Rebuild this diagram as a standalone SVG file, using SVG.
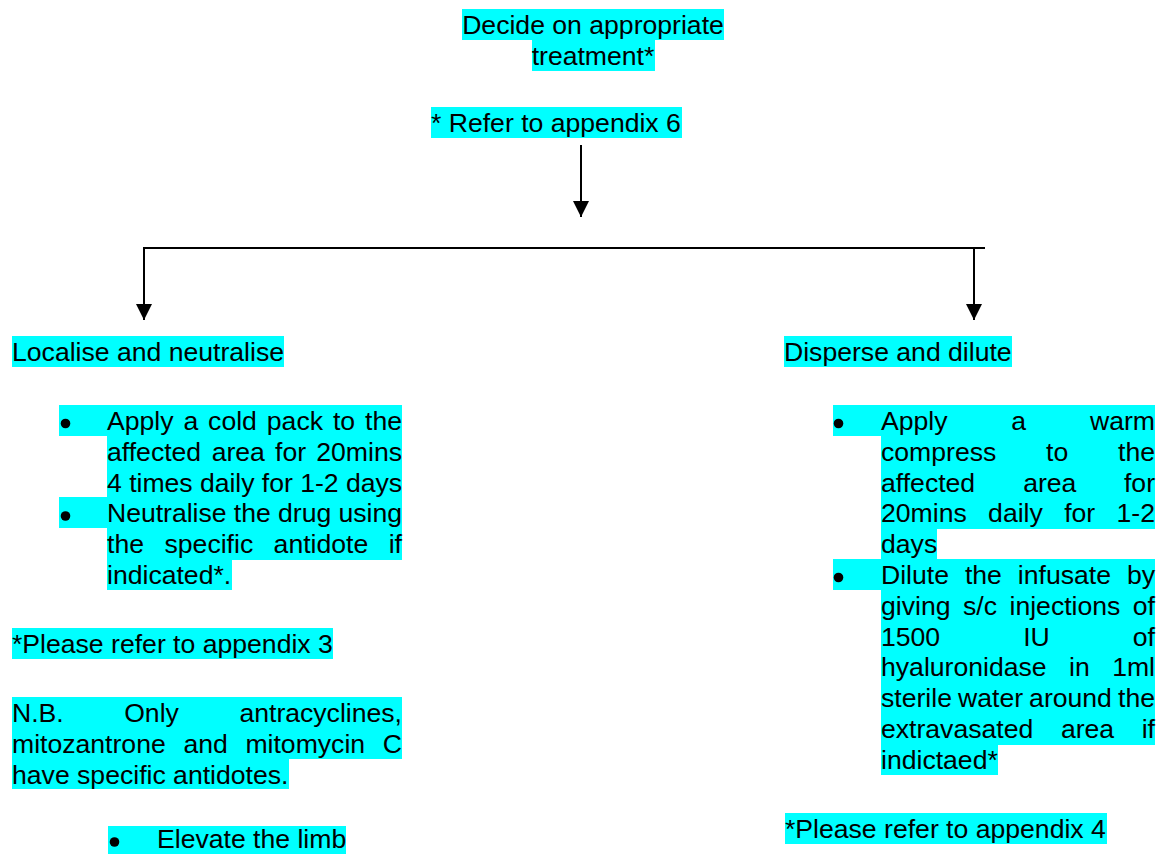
<svg xmlns="http://www.w3.org/2000/svg" width="1160" height="854" viewBox="0 0 1160 854">
<style>
text{font-family:"Liberation Sans",Arial,sans-serif;font-size:26.6px;fill:#000}
.hl{fill:#00ffff}
.ln{stroke:#000;stroke-width:2;fill:none}
.e{text-anchor:end}
.m{text-anchor:middle}
</style>
<defs>
<marker id="ah" markerWidth="16" markerHeight="16" viewBox="0 0 16 16" refX="16" refY="8" orient="auto" markerUnits="userSpaceOnUse">
<path d="M0,0 L16,8 L0,16 Z" fill="#000"/>
</marker>
</defs>
<rect width="1160" height="854" fill="#fff"/>

<g id="connectors">
<line class="ln" x1="581" y1="145" x2="581" y2="217" marker-end="url(#ah)"/>
<polyline class="ln" points="144,320 144,248 985,248"/>
<line class="ln" x1="144" y1="248" x2="144" y2="320" marker-end="url(#ah)"/>
<line class="ln" x1="974" y1="248" x2="974" y2="320" marker-end="url(#ah)"/>
</g>

<g id="decide">
<rect class="hl" x="462" y="9" width="262" height="31"/>
<rect class="hl" x="532" y="40" width="123" height="31"/>
<text class="m" x="593" y="34">Decide on appropriate</text>
<text class="m" x="593" y="65">treatment*</text>
</g>

<g id="refer6">
<rect class="hl" x="431" y="107" width="251" height="31"/>
<text x="431" y="132">* Refer to appendix 6</text>
</g>

<g id="localise">
<rect class="hl" x="12" y="336" width="272" height="31"/>
<text x="12" y="361">Localise and neutralise</text>
</g>

<g id="localise-list">
<rect class="hl" x="59" y="405" width="48" height="31"/>
<rect class="hl" x="107" y="405" width="295" height="93"/>
<rect class="hl" x="59" y="497" width="48" height="31"/>
<rect class="hl" x="107" y="497" width="295" height="63"/>
<rect class="hl" x="107" y="559" width="125" height="31"/>
<circle cx="65.5" cy="423.5" r="4.8"/>
<circle cx="65.5" cy="516" r="4.8"/>
<text y="430"><tspan x="107">Apply</tspan><tspan x="183.4">a</tspan><tspan x="208.1">cold</tspan><tspan x="266.8">pack</tspan><tspan x="332.9">to</tspan><tspan x="402" class="e">the</tspan></text>
<text y="460.8"><tspan x="107">affected</tspan><tspan x="211.7">area</tspan><tspan x="275.1">for</tspan><tspan x="402" class="e">20mins</tspan></text>
<text x="107" y="491.6" textLength="295" lengthAdjust="spacing">4 times daily for 1-2 days</text>
<text x="107" y="522.4" textLength="295" lengthAdjust="spacing">Neutralise the drug using</text>
<text y="553.2"><tspan x="107">the</tspan><tspan x="164.5">specific</tspan><tspan x="273.6">antidote</tspan><tspan x="402" class="e">if</tspan></text>
<text x="107" y="584">indicated*.</text>
</g>

<g id="refer3">
<rect class="hl" x="12" y="628" width="321" height="31"/>
<text x="12" y="653">*Please refer to appendix 3</text>
</g>

<g id="nb">
<rect class="hl" x="12" y="697" width="390" height="62"/>
<rect class="hl" x="12" y="758" width="277" height="31"/>
<text y="722"><tspan x="12">N.B.</tspan><tspan x="124.2">Only</tspan><tspan x="402" class="e">antracyclines,</tspan></text>
<text y="752.8"><tspan x="12">mitozantrone</tspan><tspan x="183.4">and</tspan><tspan x="245.4">mitomycin</tspan><tspan x="402" class="e">C</tspan></text>
<text x="12" y="783.6">have specific antidotes.</text>
</g>

<g id="elevate">
<rect class="hl" x="108" y="826" width="238" height="28"/>
<circle cx="114.5" cy="842" r="4.8"/>
<text x="157" y="848">Elevate the limb</text>
</g>

<g id="disperse">
<rect class="hl" x="784" y="336" width="228" height="31"/>
<text x="784" y="361">Disperse and dilute</text>
</g>

<g id="disperse-list">
<rect class="hl" x="833" y="405" width="48" height="31"/>
<rect class="hl" x="881" y="405" width="274" height="124"/>
<rect class="hl" x="881" y="528" width="56" height="31"/>
<rect class="hl" x="833" y="559" width="48" height="31"/>
<rect class="hl" x="881" y="559" width="274" height="186"/>
<rect class="hl" x="881" y="744" width="117" height="31"/>
<circle cx="838.5" cy="423.5" r="4.8"/>
<circle cx="838.5" cy="577.5" r="4.8"/>
<text y="430"><tspan x="881">Apply</tspan><tspan x="1011.3">a</tspan><tspan x="1155" class="e">warm</tspan></text>
<text y="460.8"><tspan x="881">compress</tspan><tspan x="1046.1">to</tspan><tspan x="1155" class="e">the</tspan></text>
<text y="491.6"><tspan x="881">affected</tspan><tspan x="1023.2">area</tspan><tspan x="1155" class="e">for</tspan></text>
<text y="522.4"><tspan x="881">20mins</tspan><tspan x="988.1">daily</tspan><tspan x="1064.2">for</tspan><tspan x="1155" class="e">1-2</tspan></text>
<text x="881" y="553.2">days</text>
<text y="584"><tspan x="881">Dilute</tspan><tspan x="964.9">the</tspan><tspan x="1017.8">infusate</tspan><tspan x="1155" class="e">by</tspan></text>
<text y="614.8"><tspan x="881">giving</tspan><tspan x="963">s/c</tspan><tspan x="1009.5">injections</tspan><tspan x="1155" class="e">of</tspan></text>
<text y="645.6"><tspan x="881">1500</tspan><tspan x="1023.2">IU</tspan><tspan x="1155" class="e">of</tspan></text>
<text y="676.4"><tspan x="881">hyaluronidase</tspan><tspan x="1069">in</tspan><tspan x="1155" class="e">1ml</tspan></text>
<text y="707.2"><tspan x="881">sterile</tspan><tspan x="958">water</tspan><tspan x="1029.1">around</tspan><tspan x="1155" class="e">the</tspan></text>
<text y="738"><tspan x="881">extravasated</tspan><tspan x="1060.9">area</tspan><tspan x="1155" class="e">if</tspan></text>
<text x="881" y="768.8">indictaed*</text>
</g>

<g id="refer4">
<rect class="hl" x="785" y="813" width="322" height="31"/>
<text x="785" y="838">*Please refer to appendix 4</text>
</g>
</svg>
